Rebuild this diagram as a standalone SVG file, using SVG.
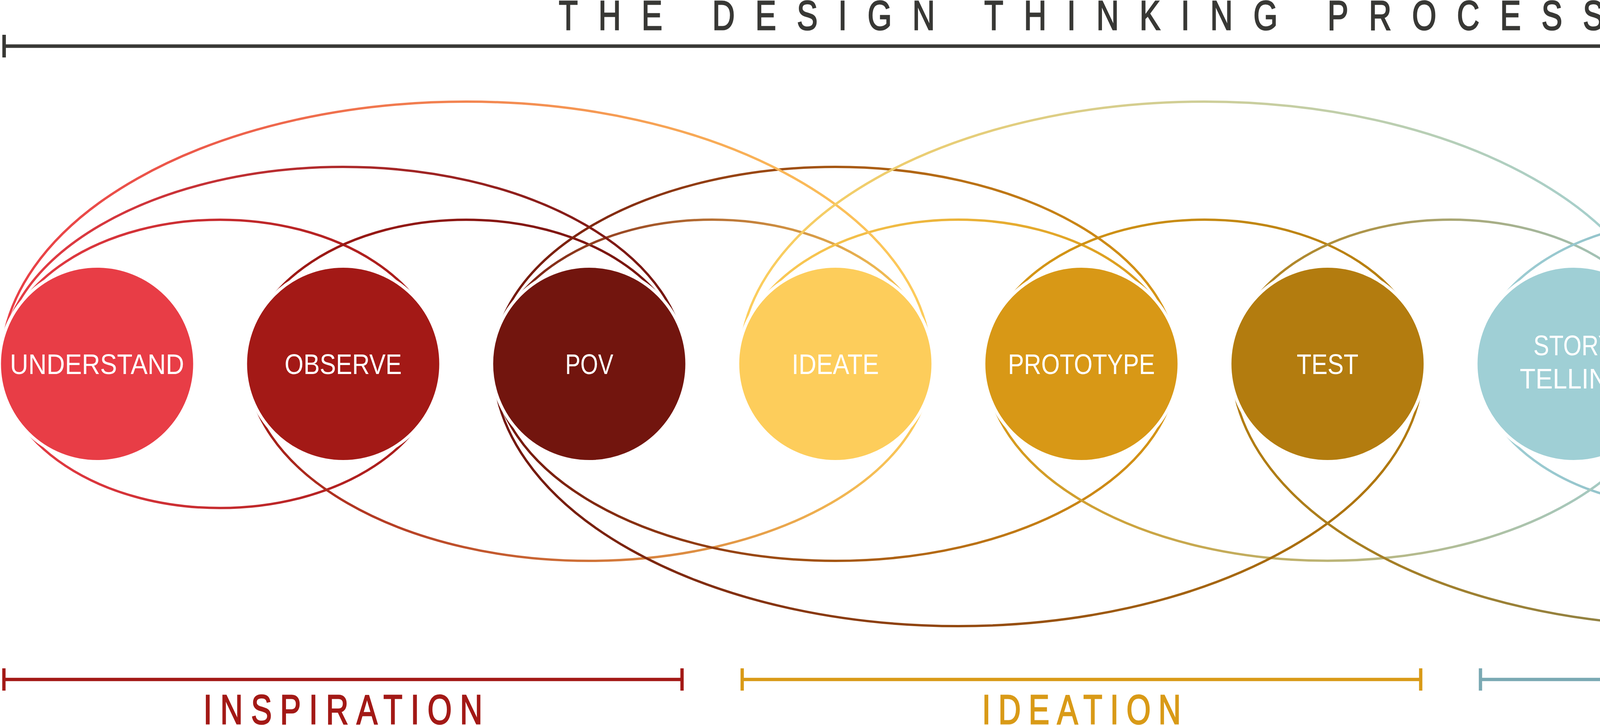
<svg xmlns="http://www.w3.org/2000/svg" width="5536" height="1855" viewBox="0 0 5536 1855">
<style>
.arc{fill:none;stroke-width:6}
.node{stroke:#fff;stroke-width:8}
.lbl{font-family:"Liberation Sans",Arial,sans-serif;font-size:72px;fill:#fff;text-anchor:middle}
.head{font-family:"Liberation Sans",Arial,sans-serif;font-size:105px;text-anchor:middle;stroke-width:3}
</style>
<defs>
<linearGradient id="g01" gradientUnits="userSpaceOnUse" x1="3.5" y1="0" x2="1123.5" y2="0"><stop offset="0" stop-color="#E83D46"/><stop offset="1" stop-color="#A31916"/></linearGradient>
<linearGradient id="g12" gradientUnits="userSpaceOnUse" x1="633.5" y1="0" x2="1753.5" y2="0"><stop offset="0" stop-color="#A31916"/><stop offset="1" stop-color="#72150E"/></linearGradient>
<linearGradient id="g23" gradientUnits="userSpaceOnUse" x1="1263.5" y1="0" x2="2383.5" y2="0"><stop offset="0" stop-color="#72150E"/><stop offset="1" stop-color="#FDCD5B"/></linearGradient>
<linearGradient id="g34" gradientUnits="userSpaceOnUse" x1="1893.5" y1="0" x2="3013.5" y2="0"><stop offset="0" stop-color="#FDCD5B"/><stop offset="1" stop-color="#D89816"/></linearGradient>
<linearGradient id="g45" gradientUnits="userSpaceOnUse" x1="2523.5" y1="0" x2="3643.5" y2="0"><stop offset="0" stop-color="#D89816"/><stop offset="1" stop-color="#B37C0F"/></linearGradient>
<linearGradient id="g56" gradientUnits="userSpaceOnUse" x1="3153.5" y1="0" x2="4273.5" y2="0"><stop offset="0" stop-color="#B37C0F"/><stop offset="1" stop-color="#9FCFD5"/></linearGradient>
<linearGradient id="g67" gradientUnits="userSpaceOnUse" x1="3783.5" y1="0" x2="4903.5" y2="0"><stop offset="0" stop-color="#9FCFD5"/><stop offset="1" stop-color="#7BAAB4"/></linearGradient>
<linearGradient id="g78" gradientUnits="userSpaceOnUse" x1="4413.5" y1="0" x2="5533.5" y2="0"><stop offset="0" stop-color="#7BAAB4"/><stop offset="1" stop-color="#608B93"/></linearGradient>
<linearGradient id="g02" gradientUnits="userSpaceOnUse" x1="3.5" y1="0" x2="1753.5" y2="0"><stop offset="0" stop-color="#E83D46"/><stop offset="1" stop-color="#72150E"/></linearGradient>
<linearGradient id="g13" gradientUnits="userSpaceOnUse" x1="633.5" y1="0" x2="2383.5" y2="0"><stop offset="0" stop-color="#A31916"/><stop offset="1" stop-color="#FDCD5B"/></linearGradient>
<linearGradient id="g24" gradientUnits="userSpaceOnUse" x1="1263.5" y1="0" x2="3013.5" y2="0"><stop offset="0" stop-color="#72150E"/><stop offset="1" stop-color="#D89816"/></linearGradient>
<linearGradient id="g46" gradientUnits="userSpaceOnUse" x1="2523.5" y1="0" x2="4273.5" y2="0"><stop offset="0" stop-color="#D89816"/><stop offset="1" stop-color="#9FCFD5"/></linearGradient>
<linearGradient id="g03" gradientUnits="userSpaceOnUse" x1="3.5" y1="0" x2="2383.5" y2="0"><stop offset="0" stop-color="#E83D46"/><stop offset="1" stop-color="#FDCD5B"/></linearGradient>
<linearGradient id="g25" gradientUnits="userSpaceOnUse" x1="1263.5" y1="0" x2="3643.5" y2="0"><stop offset="0" stop-color="#72150E"/><stop offset="1" stop-color="#B37C0F"/></linearGradient>
<linearGradient id="g36" gradientUnits="userSpaceOnUse" x1="1893.5" y1="0" x2="4273.5" y2="0"><stop offset="0" stop-color="#FDCD5B"/><stop offset="1" stop-color="#9FCFD5"/></linearGradient>
<linearGradient id="g58" gradientUnits="userSpaceOnUse" x1="3153.5" y1="0" x2="5533.5" y2="0"><stop offset="0" stop-color="#B37C0F"/><stop offset="1" stop-color="#608B93"/></linearGradient>
</defs>

<g id="header">
<text class="head" fill="#383835" stroke="#383835" transform="translate(2768 76) scale(0.76 1)" textLength="3520" lengthAdjust="spacing">THE DESIGN THINKING PROCESS</text>
<path d="M10.5 118H5527M10.5 89V147M5527 89V147" stroke="#383835" stroke-width="9" fill="none"/>
</g>

<g id="connectors">
<path class="arc" stroke="url(#g01)" d="M3.5 931A560 369 0 0 1 1123.5 931A560 369 0 0 1 3.5 931"/>
<path class="arc" stroke="url(#g12)" d="M633.5 931A560 369 0 0 1 1753.5 931"/>
<path class="arc" stroke="url(#g23)" d="M1263.5 931A560 369 0 0 1 2383.5 931"/>
<path class="arc" stroke="url(#g34)" d="M1893.5 931A560 369 0 0 1 3013.5 931"/>
<path class="arc" stroke="url(#g45)" d="M2523.5 931A560 369 0 0 1 3643.5 931"/>
<path class="arc" stroke="url(#g56)" d="M3153.5 931A560 369 0 0 1 4273.5 931"/>
<path class="arc" stroke="url(#g67)" d="M3783.5 931A560 369 0 0 1 4903.5 931A560 369 0 0 1 3783.5 931"/>
<path class="arc" stroke="url(#g78)" d="M4413.5 931A560 369 0 0 1 5533.5 931A560 369 0 0 1 4413.5 931"/>
<path class="arc" stroke="url(#g02)" d="M3.5 931A875 504 0 0 1 1753.5 931"/>
<path class="arc" stroke="url(#g13)" d="M633.5 931A875 504 0 0 0 2383.5 931"/>
<path class="arc" stroke="url(#g24)" d="M1263.5 931A875 504 0 0 1 3013.5 931A875 504 0 0 1 1263.5 931"/>
<path class="arc" stroke="url(#g46)" d="M2523.5 931A875 504 0 0 0 4273.5 931"/>
<path class="arc" stroke="url(#g03)" d="M3.5 931A1190 671 0 0 1 2383.5 931"/>
<path class="arc" stroke="url(#g25)" d="M1263.5 931A1190 671 0 0 0 3643.5 931"/>
<path class="arc" stroke="url(#g36)" d="M1893.5 931A1190 671 0 0 1 4273.5 931"/>
<path class="arc" stroke="url(#g58)" d="M3153.5 931A1190 671 0 0 0 5533.5 931"/>
</g>

<g id="node-understand"><circle class="node" cx="248.5" cy="931" r="250" fill="#E83D46"/><text class="lbl" x="248.5" y="957" textLength="446" lengthAdjust="spacingAndGlyphs">UNDERSTAND</text></g>
<g id="node-observe"><circle class="node" cx="878.5" cy="931" r="250" fill="#A31916"/><text class="lbl" x="878.5" y="957" textLength="300" lengthAdjust="spacingAndGlyphs">OBSERVE</text></g>
<g id="node-pov"><circle class="node" cx="1508.5" cy="931" r="250" fill="#72150E"/><text class="lbl" x="1508.5" y="957" textLength="123" lengthAdjust="spacingAndGlyphs">POV</text></g>
<g id="node-ideate"><circle class="node" cx="2138.5" cy="931" r="250" fill="#FDCD5B"/><text class="lbl" x="2138.5" y="957" textLength="223" lengthAdjust="spacingAndGlyphs">IDEATE</text></g>
<g id="node-prototype"><circle class="node" cx="2768.5" cy="931" r="250" fill="#D89816"/><text class="lbl" x="2768.5" y="957" textLength="376" lengthAdjust="spacingAndGlyphs">PROTOTYPE</text></g>
<g id="node-test"><circle class="node" cx="3398.5" cy="931" r="250" fill="#B37C0F"/><text class="lbl" x="3398.5" y="957" textLength="158" lengthAdjust="spacingAndGlyphs">TEST</text></g>
<g id="node-storytelling"><circle class="node" cx="4028.5" cy="931" r="250" fill="#9FCFD5"/><text class="lbl" x="4028.5" y="909" textLength="206" lengthAdjust="spacingAndGlyphs">STORY</text><text class="lbl" x="4028.5" y="994" textLength="276" lengthAdjust="spacingAndGlyphs">TELLING</text></g>
<g id="node-pilot"><circle class="node" cx="4658.5" cy="931" r="250" fill="#7BAAB4"/><text class="lbl" x="4658.5" y="957" textLength="179" lengthAdjust="spacingAndGlyphs">PILOT</text></g>
<g id="node-businessmodel"><circle class="node" cx="5288.5" cy="931" r="250" fill="#608B93"/><text class="lbl" x="5288.5" y="909" textLength="327" lengthAdjust="spacingAndGlyphs">BUSINESS</text><text class="lbl" x="5288.5" y="994" textLength="225" lengthAdjust="spacingAndGlyphs">MODEL</text></g>

<g id="phase-inspiration">
<path d="M10 1738.5H1746M10 1710V1767M1746 1710V1767" stroke="#A31916" stroke-width="8.5" fill="none"/>
<text class="head" fill="#A31916" stroke="#A31916" transform="translate(878 1852) scale(0.76 1)" textLength="940" lengthAdjust="spacing">INSPIRATION</text>
</g>
<g id="phase-ideation">
<path d="M1900 1738.5H3637M1900 1710V1767M3637 1710V1767" stroke="#D99A17" stroke-width="8.5" fill="none"/>
<text class="head" fill="#D99A17" stroke="#D99A17" transform="translate(2768.5 1852) scale(0.76 1)" textLength="670" lengthAdjust="spacing">IDEATION</text>
</g>
<g id="phase-implementation">
<path d="M3790 1738.5H5527M3790 1710V1767M5527 1710V1767" stroke="#7AA9B3" stroke-width="8.5" fill="none"/>
<text class="head" fill="#7AA9B3" stroke="#7AA9B3" transform="translate(4658.5 1852) scale(0.76 1)" textLength="1315" lengthAdjust="spacing">IMPLEMENTATION</text>
</g>
</svg>
